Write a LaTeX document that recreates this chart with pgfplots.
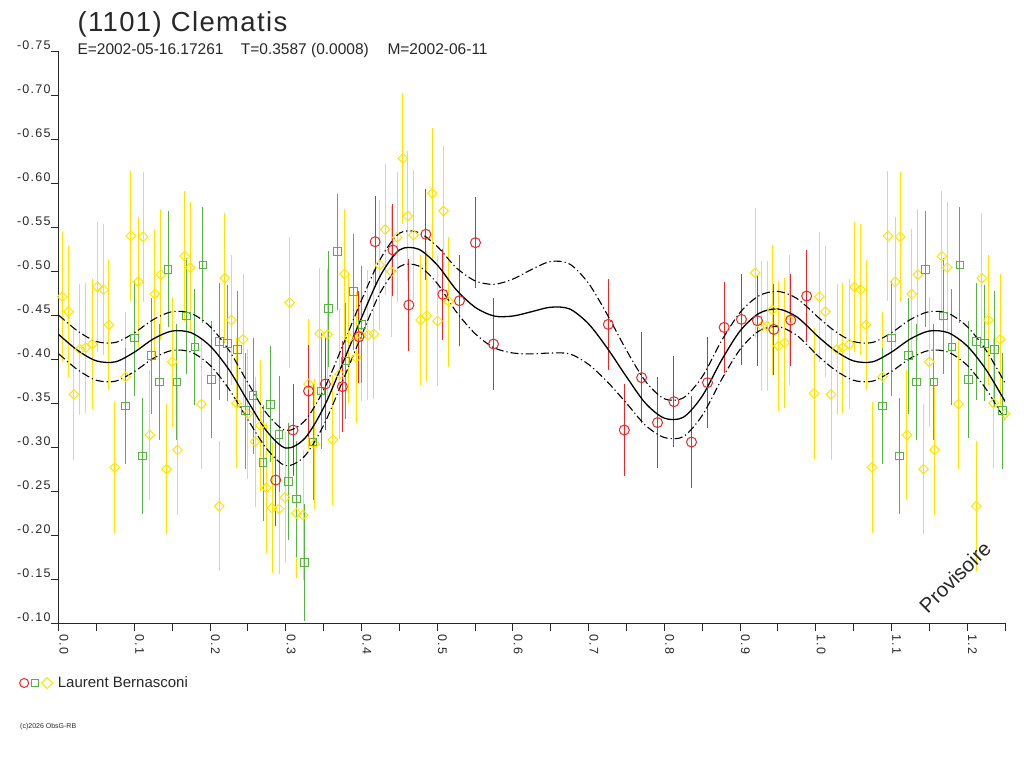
\documentclass[border=0pt]{standalone}
\usepackage{fontspec}
\setmainfont{Liberation Sans}
\newfontfamily\tickfont[LetterSpace=10]{Liberation Sans}
\newfontfamily\titlefont[LetterSpace=5]{Liberation Sans}
\usepackage{pgfplots}
\pgfplotsset{compat=1.18}
\usepackage{pgfplotstable}
\definecolor{cred}{RGB}{232,40,40}
\definecolor{cgreen}{RGB}{88,178,70}
\definecolor{cyellow}{RGB}{255,228,0}
\definecolor{caxis}{RGB}{40,40,40}

\pgfplotstableread{
p m
0.2867 -0.2627
0.3095 -0.3195
0.3300 -0.3638
0.3522 -0.3718
0.3747 -0.3688
0.3966 -0.4255
0.4180 -0.5334
0.4415 -0.5240
0.4626 -0.4615
0.4850 -0.5418
0.5074 -0.4736
0.5294 -0.4664
0.5505 -0.5323
0.5743 -0.4172
0.7260 -0.4395
0.7471 -0.3195
0.7700 -0.3790
0.7910 -0.3280
0.8127 -0.3517
0.8359 -0.3059
0.8570 -0.3733
0.8790 -0.4361
0.9019 -0.4452
0.9230 -0.4437
0.9446 -0.4338
0.9670 -0.4444
0.9880 -0.4717
}\reddata

\pgfplotstableread{
p m
0.0879 -0.347
0.0998 -0.424
0.1108 -0.290
0.1222 -0.404
0.1328 -0.374
0.1446 -0.502
0.1560 -0.374
0.1689 -0.449
0.1798 -0.414
0.1904 -0.507
0.2018 -0.377
0.2124 -0.420
0.2230 -0.418
0.2360 -0.411
0.2467 -0.3415
0.2567 -0.3585
0.2700 -0.2824
0.2801 -0.3487
0.2911 -0.3146
0.3038 -0.261
0.3140 -0.241
0.3250 -0.169
0.3360 -0.306
0.3465 -0.364
0.3566 -0.4573
0.3680 -0.522
0.3790 -0.398
0.3896 -0.4767
0.4005 -0.4395
}\greendata

\pgfplotstableread{
p m
0.0048 -0.471
0.0127 -0.454
0.0202 -0.360
0.0281 -0.411
0.0356 -0.413
0.0444 -0.417
0.0514 -0.482
0.0593 -0.479
0.0664 -0.439
0.0743 -0.277
0.0884 -0.380
0.0954 -0.540
0.1050 -0.488
0.1116 -0.539
0.1205 -0.314
0.1270 -0.474
0.1350 -0.496
0.1425 -0.275
0.1500 -0.397
0.1570 -0.297
0.1666 -0.517
0.1737 -0.504
0.1886 -0.349
0.2120 -0.233
0.2194 -0.492
0.2280 -0.4445
0.2350 -0.350
0.2436 -0.4225
0.2500 -0.338
0.2594 -0.3063
0.2665 -0.3245
0.2744 -0.254
0.2818 -0.231
0.2910 -0.230
0.2990 -0.243
0.3050 -0.4642
0.3140 -0.225
0.3227 -0.223
0.3300 -0.3718
0.3380 -0.3036
0.3448 -0.429
0.3550 -0.428
0.3623 -0.3082
0.3710 -0.383
0.3777 -0.4967
0.3834 -0.424
0.3930 -0.402
0.3997 -0.427
0.4085 -0.4274
0.4164 -0.4286
0.4239 -0.507
0.4313 -0.5474
0.4393 -0.4994
0.4472 -0.5384
0.4546 -0.628
0.4612 -0.5626
0.4687 -0.541
0.4780 -0.4445
0.4863 -0.4494
0.4934 -0.5883
0.5004 -0.4433
0.5083 -0.5683
0.5153 -0.4653
0.9200 -0.4982
0.9288 -0.4376
0.9360 -0.4376
0.9427 -0.4558
0.9507 -0.4149
0.9590 -0.4187
0.9648 -0.4444
0.9978 -0.3611
}\yellowdata

\pgfplotstableread{
p fit up lo
0.000 -0.428 -0.450 -0.406
0.025 -0.410 -0.432 -0.388
0.050 -0.398 -0.420 -0.376
0.075 -0.397 -0.419 -0.375
0.100 -0.408 -0.430 -0.386
0.125 -0.423 -0.445 -0.401
0.150 -0.432 -0.454 -0.410
0.175 -0.430 -0.452 -0.408
0.200 -0.415 -0.437 -0.393
0.225 -0.388 -0.410 -0.366
0.250 -0.352 -0.373 -0.331
0.275 -0.318 -0.338 -0.298
0.300 -0.299 -0.319 -0.279
0.325 -0.310 -0.330 -0.290
0.350 -0.345 -0.365 -0.325
0.375 -0.395 -0.415 -0.375
0.400 -0.447 -0.467 -0.427
0.425 -0.495 -0.514 -0.476
0.450 -0.524 -0.543 -0.505
0.475 -0.525 -0.544 -0.506
0.500 -0.507 -0.528 -0.486
0.525 -0.479 -0.504 -0.454
0.550 -0.459 -0.489 -0.429
0.575 -0.449 -0.485 -0.413
0.600 -0.449 -0.491 -0.407
0.625 -0.454 -0.502 -0.406
0.650 -0.459 -0.511 -0.407
0.675 -0.457 -0.508 -0.406
0.700 -0.440 -0.486 -0.394
0.725 -0.412 -0.450 -0.374
0.750 -0.380 -0.410 -0.350
0.775 -0.350 -0.375 -0.325
0.800 -0.333 -0.355 -0.311
0.825 -0.334 -0.356 -0.312
0.850 -0.358 -0.380 -0.336
0.875 -0.398 -0.420 -0.376
0.900 -0.432 -0.453 -0.411
0.925 -0.452 -0.472 -0.432
0.950 -0.457 -0.477 -0.437
0.975 -0.448 -0.469 -0.427
1.000 -0.428 -0.450 -0.406
}\fitdata

\pgfplotsset{
  redpts/.style={only marks, cred, mark=o, mark size=5pt, line width=1pt,
    error bars/y dir=both, error bars/y fixed=0.052, error bars/error mark=none,
    error bars/error bar style={line width=1pt, cred}},
  greenpts/.style={only marks, cgreen, mark=square, mark size=3.8pt, line width=1pt,
    error bars/y dir=both, error bars/y fixed=0.066, error bars/error mark=none,
    error bars/error bar style={line width=1pt, cgreen}},
  yellowpts/.style={only marks, cyellow, mark=square, mark options={rotate=45}, mark size=3.4pt, line width=1pt,
    error bars/y dir=both, error bars/y fixed=0.074, error bars/error mark=none,
    error bars/error bar style={line width=1pt, cyellow}},
  envstyle/.style={black, line width=1.1pt, dash pattern=on 8pt off 3pt on 1.2pt off 3pt, smooth},
  fitstyle/.style={black, line width=1.3pt, smooth},
}

\begin{document}
\begin{tikzpicture}[x=1pt,y=1pt]
\path[use as bounding box] (0,0) rectangle (1024,768);
\begin{axis}[
  at={(58.7pt,144.7pt)}, anchor=south west,
  scale only axis, width=946.3pt, height=572.3pt,
  xmin=0, xmax=1.25, ymin=-0.75, ymax=-0.10,
  y dir=reverse,
  axis x line*=bottom, axis y line*=left,
  axis line style={-, caxis, line width=1pt},
  tick style={caxis, line width=1pt},
  tick align=outside,
  major tick length=8pt, minor tick length=8pt,
  xtick={0,0.1,0.2,0.3,0.4,0.5,0.6,0.7,0.8,0.9,1.0,1.1,1.2},
  xticklabels={0.0,0.1,0.2,0.3,0.4,0.5,0.6,0.7,0.8,0.9,1.0,1.1,1.2},
  minor xtick={0.05,0.15,0.25,0.35,0.45,0.55,0.65,0.75,0.85,0.95,1.05,1.15,1.25},
  ytick={-0.75,-0.70,-0.65,-0.60,-0.55,-0.50,-0.45,-0.40,-0.35,-0.30,-0.25,-0.20,-0.15,-0.10},
  yticklabels={-0.75,-0.70,-0.65,-0.60,-0.55,-0.50,-0.45,-0.40,-0.35,-0.30,-0.25,-0.20,-0.15,-0.10},
  ticklabel style={font=\tickfont\fontsize{12.5}{14}\selectfont, text=caxis},
  yticklabel style={anchor=south east, inner sep=0pt, xshift=0pt, yshift=1pt},
  xticklabel style={rotate=-90, anchor=base west, inner sep=0pt, xshift=3pt, yshift=1pt},
  legend style={draw=none, fill=none, at={(axis description cs:-0.042,-0.1043)}, anchor=west,
    font=\fontsize{15}{17}\selectfont, inner sep=0pt, text=caxis},
  legend cell align=left,
]
\addlegendimage{legend image code/.code={
  \draw[cred, line width=1pt] (4.5pt,0pt) circle (4.5pt);
  \draw[cgreen, line width=1pt] (12pt,-3.5pt) rectangle (19pt,3.5pt);
  \draw[cyellow, line width=1pt] (22pt,0pt) -- (27.5pt,5.5pt) -- (33pt,0pt) -- (27.5pt,-5.5pt) -- cycle;
  \path (36pt,0pt);
}}
\addlegendentry{Laurent Bernasconi}

\addplot[forget plot, yellowpts] table[x=p,y=m]{\yellowdata};
\addplot[forget plot, yellowpts] table[x expr=\thisrow{p}+1, y=m, restrict x to domain=1:1.25]{\yellowdata};
\addplot[forget plot, greenpts] table[x=p,y=m]{\greendata};
\addplot[forget plot, greenpts] table[x expr=\thisrow{p}+1, y=m, restrict x to domain=1:1.25]{\greendata};
\addplot[forget plot, redpts] table[x=p,y=m]{\reddata};

\addplot[forget plot, fitstyle] table[x=p,y=fit]{\fitdata};
\addplot[forget plot, envstyle] table[x=p,y=up]{\fitdata};
\addplot[forget plot, envstyle] table[x=p,y=lo]{\fitdata};
\addplot[forget plot, fitstyle] table[x expr=\thisrow{p}+1, y=fit, restrict x to domain=1:1.25]{\fitdata};
\addplot[forget plot, envstyle] table[x expr=\thisrow{p}+1, y=up, restrict x to domain=1:1.25]{\fitdata};
\addplot[forget plot, envstyle] table[x expr=\thisrow{p}+1, y=lo, restrict x to domain=1:1.25]{\fitdata};
\end{axis}

\node[anchor=base west, inner sep=0pt, text=caxis, font=\titlefont\fontsize{27.5}{30}\selectfont] at (77.3,736.3) {(1101) Clematis};
\node[anchor=base west, inner sep=0pt, text=caxis, font=\fontsize{15.5}{17}\selectfont] at (77.3,713.7) {E=2002-05-16.17261};
\node[anchor=base west, inner sep=0pt, text=caxis, font=\fontsize{15.5}{17}\selectfont] at (240.7,713.7) {T=0.3587 (0.0008)};
\node[anchor=base west, inner sep=0pt, text=caxis, font=\fontsize{15.5}{17}\selectfont] at (387.3,713.7) {M=2002-06-11};
\node[anchor=base west, inner sep=0pt, text=caxis, font=\fontsize{7}{8}\selectfont] at (20,40) {(c)2026 ObsG-RB};
\node[rotate=45, inner sep=0pt, text=caxis, font=\fontsize{20.5}{22}\selectfont] at (955,191) {Provisoire};
\end{tikzpicture}
\end{document}
